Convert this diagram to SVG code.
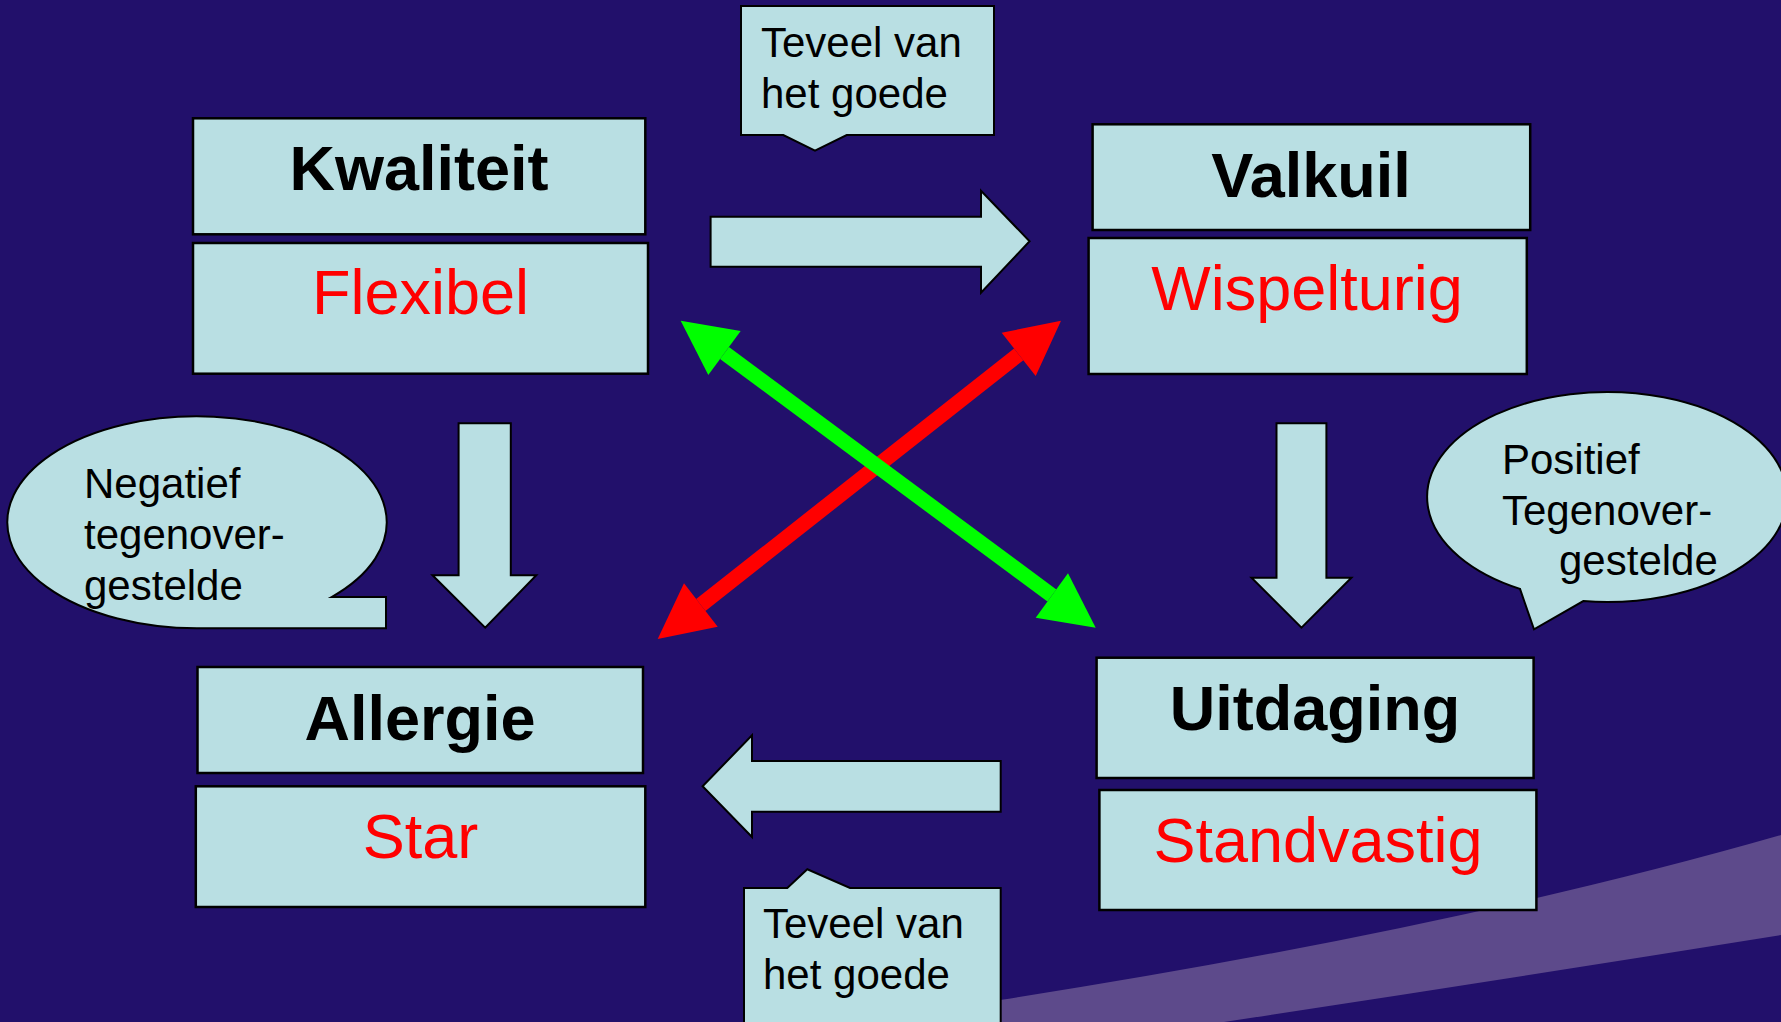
<svg xmlns="http://www.w3.org/2000/svg" width="1781" height="1022" viewBox="0 0 1781 1022">
<style>
.box{fill:#b9dfe3;stroke:#000;stroke-width:2.5}
.shape{fill:#b9dfe3;stroke:#000;stroke-width:2}
.title{font-family:"Liberation Sans",Arial,sans-serif;font-size:63px;font-weight:bold;fill:#000;text-anchor:middle}
.value{font-family:"Liberation Sans",Arial,sans-serif;font-size:63px;fill:#ff0000;text-anchor:middle}
.note{font-family:"Liberation Sans",Arial,sans-serif;font-size:42px;fill:#000}
</style>
<rect x="0" y="0" width="1781" height="1022" fill="#22106b"/>
<path d="M850,1022 L1000,1000 Q1450,930 1781,835 L1781,935 Q1500,980 1224,1022 Z" fill="#5d4a8b"/>

<g id="connectors">
  <polygon class="shape" points="710.6,216.7 981,216.7 981,190.7 1029.6,241.3 981,292.7 981,266.7 710.6,266.7"/>
  <polygon class="shape" points="702.6,786.3 752,735.3 752,761 1000.7,761 1000.7,811.7 752,811.7 752,837"/>
  <polygon class="shape" points="458.6,423.3 510.8,423.3 510.8,575.3 536.3,575.3 485.2,627.7 432.5,575.3 458.6,575.3"/>
  <polygon class="shape" points="1276.5,423.3 1326.4,423.3 1326.4,577.7 1351.4,577.7 1301.5,627.7 1251.5,577.7 1276.5,577.7"/>
  <g id="red-arrow" fill="#ff0000">
    <line x1="1018.7" y1="354.3" x2="700.8" y2="605" stroke="#ff0000" stroke-width="15"/>
    <polygon points="1061,320.7 1001.7,332.7 1035.7,376"/>
    <polygon points="657.7,639 684,583.3 717.7,626.7"/>
  </g>
  <g id="green-arrow" fill="#00ff00">
    <line x1="724.5" y1="353" x2="1051.9" y2="595.5" stroke="#00ff00" stroke-width="15"/>
    <polygon points="680.7,320.7 740.7,331 708.3,375"/>
    <polygon points="1095.7,627.7 1068,573.3 1035.7,617.7"/>
  </g>
</g>

<g id="kwaliteit">
  <rect class="box" x="193" y="118.3" width="452.3" height="116"/>
  <text class="title" x="419" y="190">Kwaliteit</text>
</g>
<g id="flexibel">
  <rect class="box" x="193" y="243" width="455" height="130.7"/>
  <text class="value" x="420.5" y="314">Flexibel</text>
</g>
<g id="valkuil">
  <rect class="box" x="1092.6" y="124.3" width="437.6" height="105.7"/>
  <text class="title" x="1311" y="197">Valkuil</text>
</g>
<g id="wispelturig">
  <rect class="box" x="1088.6" y="238" width="438.2" height="136"/>
  <text class="value" x="1307" y="310">Wispelturig</text>
</g>
<g id="allergie">
  <rect class="box" x="197.5" y="667" width="445.5" height="106"/>
  <text class="title" x="420" y="740">Allergie</text>
</g>
<g id="star">
  <rect class="box" x="195.8" y="786.3" width="449.5" height="120.7"/>
  <text class="value" x="420.5" y="858">Star</text>
</g>
<g id="uitdaging">
  <rect class="box" x="1096.6" y="657.7" width="437" height="120.3"/>
  <text class="title" x="1315" y="730">Uitdaging</text>
</g>
<g id="standvastig">
  <rect class="box" x="1099.4" y="790" width="437" height="120"/>
  <text class="value" x="1318" y="862">Standvastig</text>
</g>

<g id="callout-top">
  <path class="shape" d="M741,6 H994 V135 H846.7 L815,150.7 L783.3,135 H741 Z"/>
  <text class="note" x="761" y="57.3">Teveel van</text>
  <text class="note" x="761" y="108.3">het goede</text>
</g>
<g id="callout-bottom">
  <path class="shape" d="M744,888 H787.3 L807.3,869.3 L850,888 H1000.7 V1030 H744 Z"/>
  <text class="note" x="763" y="938.3">Teveel van</text>
  <text class="note" x="763" y="989.3">het goede</text>
</g>
<g id="callout-negatief">
  <path class="shape" d="M331.6,597 H386 V628.3 H197 A189.7 106 0 1 1 331.6,597 Z"/>
  <text class="note" x="84" y="498.3">Negatief</text>
  <text class="note" x="84" y="549">tegenover-</text>
  <text class="note" x="84" y="600">gestelde</text>
</g>
<g id="callout-positief">
  <path class="shape" d="M1520,588.9 L1534,629.3 L1583.3,601.1 A180 105 0 1 0 1520,588.9 Z"/>
  <text class="note" x="1502" y="474">Positief</text>
  <text class="note" x="1502" y="525">Tegenover-</text>
  <text class="note" x="1559" y="575">gestelde</text>
</g>
</svg>
